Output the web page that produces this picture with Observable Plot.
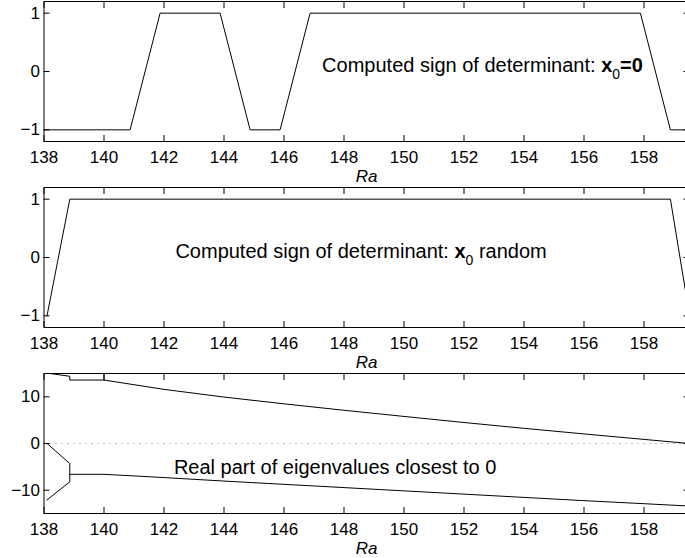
<!DOCTYPE html>
<html><head><meta charset="utf-8">
<script src="https://cdn.jsdelivr.net/npm/d3@7"></script>
<script src="https://cdn.jsdelivr.net/npm/@observablehq/plot@0.6"></script>
<style>
html,body{margin:0;padding:0;background:#fff;overflow:hidden;width:685px;height:558px}
#chart svg{display:block;max-width:none}
</style></head><body><div id="chart"></div>
<script>
// ---- axes ----
const xTicks = [138, 140, 142, 144, 146, 148, 150, 152, 154, 156, 158];
const xDomain = [138, 159.5];
const signTicks = [-1, 0, 1];
const signDomain = [-1.2, 1.2];
const eigTicks = [-10, 0, 10];
const eigDomain = [-15, 15];
const xLabel = "Ra";

// ---- panel 1: sign of determinant, x0 = 0 ----
const ra1 = [138, 140.87, 141.87, 143.87, 144.87, 145.87, 146.87, 157.88, 158.88, 159.5];
const sign1 = [-1, -1, 1, 1, -1, -1, 1, 1, -1, -1];

// ---- panel 2: sign of determinant, x0 random ----
const ra2 = [138.1, 138.86, 158.88, 159.52];
const sign2 = [-1, 1, 1, -1];

// ---- panel 3: real part of eigenvalues closest to 0 ----
const raUpper = [138.1, 138.86, 138.86, 140, 142, 144, 146, 148, 150, 152, 154, 156, 158, 159.5];
const eigUpper = [15.1, 14.4, 13.6, 13.6, 11.6, 9.95, 8.5, 7.12, 5.8, 4.5, 3.25, 2.05, 0.88, 0.0];
const raUpper2 = [140, 140];
const eigUpper2 = [15.5, 13.6];
const raLowerA = [138.1, 138.86, 138.86, 138.1];
const eigLowerA = [0, -4.3, -8.2, -12.1];
const raLowerB = [138.86, 140, 142, 144, 146, 148, 150, 152, 154, 156, 158, 159.5];
const eigLowerB = [-6.6, -6.6, -7.3, -8.05, -8.75, -9.45, -10.15, -10.85, -11.55, -12.25, -12.9, -13.4];

// ---- annotations ----
const note1Parts = [["Computed sign of determinant: ", ""], ["x", "bold"], ["0", "sub"], ["=0", "bold"]];
const note2Parts = [["Computed sign of determinant: ", ""], ["x", "bold"], ["0", "sub"], [" random", ""]];
const note3Parts = [["Real part of eigenvalues closest to 0", ""]];
const noteRa = [147.27, 142.38, 142.33];
const noteVal = [0, 0, -6.45];

const zip = (xs, ys, key) => xs.map((x, i) => ({ra: x, v: ys[i], k: key}));
const FONT = "'Liberation Sans', Arial, Helvetica, sans-serif";

function panel(marks, yDomain, yTicks) {
  return Plot.plot({
    width: 685, height: 186,
    marginLeft: 43.5, marginRight: -3.5, marginTop: 1, marginBottom: 45,
    style: {fontFamily: FONT, fontSize: "17px", background: "white", color: "black", overflow: "hidden"},
    x: {domain: xDomain, label: null},
    y: {domain: yDomain, label: null},
    marks: [
      ...marks,
      Plot.frame({stroke: "black", strokeWidth: 1}),
      Plot.axisX({anchor: "bottom", ticks: xTicks, tickSize: -6, tickPadding: 15.4, tickFormat: d3.format("d"), label: null, fontSize: 17}),
      Plot.axisX({anchor: "top", ticks: xTicks, tickSize: -6, tickFormat: () => "", label: null}),
      Plot.axisY({anchor: "left", ticks: yTicks, tickSize: -6, tickPadding: 10, tickFormat: d3.format("d"), label: null, fontSize: 17}),
      Plot.axisY({anchor: "right", ticks: yTicks, tickSize: -6, tickFormat: () => "", label: null}),
      Plot.text([xLabel], {text: d => d, frameAnchor: "bottom", dy: 40, lineAnchor: "bottom", fontStyle: "italic", fontSize: 17})
    ]
  });
}

function note(parts, i) {
  const plain = parts.map(p => p[0]).join("");
  return Plot.text([{ra: noteRa[i], v: noteVal[i], t: plain}], {
    x: "ra", y: "v", text: "t", textAnchor: "start", lineAnchor: "bottom", fontSize: 20
  });
}

function richify(svg, parts) {
  const plain = parts.map(p => p[0]).join("");
  svg.querySelectorAll("text").forEach(t => {
    if (t.textContent !== plain) return;
    while (t.firstChild) t.removeChild(t.firstChild);
    let shifted = false;
    parts.forEach(([s, kind]) => {
      const ts = document.createElementNS("http://www.w3.org/2000/svg", "tspan");
      ts.textContent = s;
      if (kind === "bold") ts.setAttribute("font-weight", "bold");
      if (kind === "sub") { ts.setAttribute("font-size", "14"); ts.setAttribute("dy", "7"); shifted = true; }
      else if (shifted) { ts.setAttribute("dy", "-7"); shifted = false; }
      t.appendChild(ts);
    });
  });
}

const lineOpts = {x: "ra", y: "v", z: "k", stroke: "black", strokeWidth: 1, clip: true};

const p1 = panel([
  Plot.line(zip(ra1, sign1, "a"), lineOpts),
  note(note1Parts, 0)
], signDomain, signTicks);
richify(p1, note1Parts);

const p2 = panel([
  Plot.line(zip(ra2, sign2, "a"), lineOpts),
  note(note2Parts, 1)
], signDomain, signTicks);
richify(p2, note2Parts);

const p3 = panel([
  Plot.ruleY([0], {stroke: "#777", strokeWidth: 1, strokeDasharray: "1,5"}),
  Plot.line([
    ...zip(raUpper, eigUpper, "u"),
    ...zip(raUpper2, eigUpper2, "u2"),
    ...zip(raLowerA, eigLowerA, "la"),
    ...zip(raLowerB, eigLowerB, "lb")
  ], lineOpts),
  note(note3Parts, 2)
], eigDomain, eigTicks);

const chart = document.getElementById("chart");
chart.append(p1, p2, p3);
</script>
</body></html>
